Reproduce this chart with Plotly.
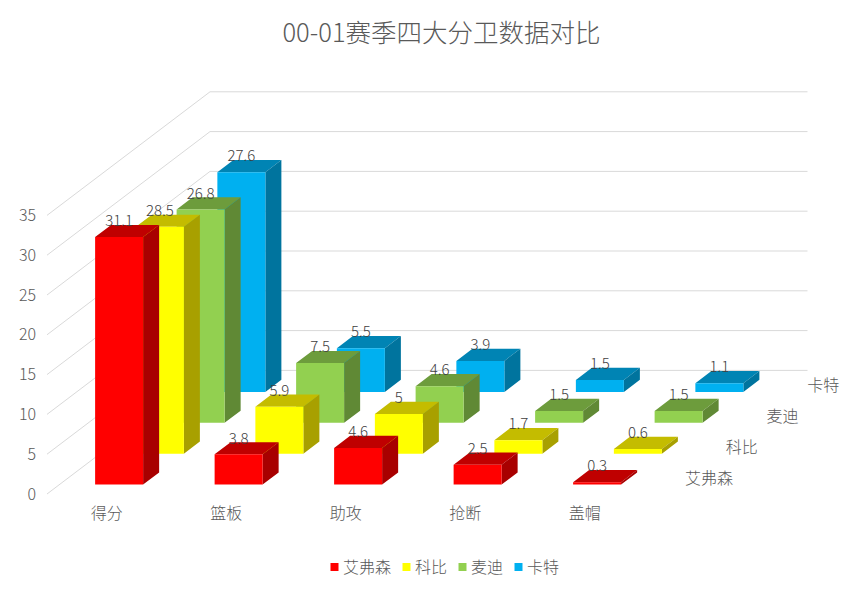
import plotly.graph_objects as go

title = "00-01赛季四大分卫数据对比"
categories = ["得分", "篮板", "助攻", "抢断", "盖帽"]
players = ["艾弗森", "科比", "麦迪", "卡特"]
iverson = [31.1, 3.8, 4.6, 2.5, 0.3]
kobe = [28.5, 5.9, 5, 1.7, 0.6]
mcgrady = [26.8, 7.5, 4.6, 1.5, 1.5]
carter = [27.6, 5.5, 3.9, 1.5, 1.1]
series = [iverson, kobe, mcgrady, carter]
ticks = [0, 5, 10, 15, 20, 25, 30, 35]

# front, top, side colour of each series
front = ["#FF0000", "#FFFF00", "#92D050", "#00B0F0"]
top = ["#BF0000", "#C4BC00", "#6D9C3C", "#0084B4"]
side = ["#A80000", "#A8A000", "#608935", "#00749E"]
text_color = "#595959"
label_color = "#404040"
font_cn = "Noto Sans CJK SC"

# the page keeps its 8px body margin, so the axes start at 8 to stay in page pixels
PAGE_MARGIN = 8
WIDTH, HEIGHT = 856, 606


# Excel style oblique projection, result is in page pixels
def proj(cat, depth, val):
    return 47 + 119.5 * cat + 40.75 * depth, 494 - 30.9 * depth - 7.96 * val


def poly(xs, ys, pts):
    for p in pts:
        x, y = proj(*p)
        xs.append(x)
        ys.append(y)
    xs.append(None)
    ys.append(None)


def face_trace(xs, ys, color, name):
    return go.Scatter(x=xs, y=ys, mode="lines", fill="toself", fillcolor=color,
                      line=dict(width=0), name=name, hoverinfo="name")


def text_trace(xs, ys, labels, pos, size, color=text_color):
    return go.Scatter(x=xs, y=ys, mode="text", text=labels, textposition=pos,
                      textfont=dict(family=font_cn, size=size, color=color, weight=300),
                      hoverinfo="skip")


fig = go.Figure()

# gridlines: diagonal on the side wall, then flat along the back wall
for v in ticks:
    xs, ys = zip(proj(0, 0, v), proj(0, 4, v), proj(5, 4, v))
    fig.add_trace(go.Scatter(x=xs, y=ys, mode="lines", hoverinfo="skip",
                             line=dict(color="#D9D9D9", width=1)))

# bars, back series first so the front ones cover them
for s in range(3, -1, -1):
    fx, fy, tx, ty, sx, sy = [], [], [], [], [], []
    for c, v in enumerate(series[s]):
        c0, c1 = c + 0.2992, c + 0.7008
        d0, d1 = s + 0.3035, s + 0.6965
        poly(fx, fy, [(c0, d0, 0), (c1, d0, 0), (c1, d0, v), (c0, d0, v)])
        poly(tx, ty, [(c0, d0, v), (c1, d0, v), (c1, d1, v), (c0, d1, v)])
        poly(sx, sy, [(c1, d0, 0), (c1, d1, 0), (c1, d1, v), (c1, d0, v)])
    fig.add_trace(face_trace(tx, ty, top[s], players[s]))
    fig.add_trace(face_trace(sx, sy, side[s], players[s]))
    fig.add_trace(face_trace(fx, fy, front[s], players[s]))

# data labels
for s in range(3, -1, -1):
    pts = [proj(c + 0.5, s + 0.3035, v) for c, v in enumerate(series[s])]
    fig.add_trace(text_trace([p[0] for p in pts], [p[1] - 14.5 for p in pts],
                             [str(v) for v in series[s]], "middle center", 15, label_color))

# value axis labels
pts = [proj(0, 0, v) for v in ticks]
fig.add_trace(text_trace([36] * len(ticks), [p[1] + 1.5 for p in pts],
                         [str(v) for v in ticks], "middle left", 16))

# category labels
pts = [proj(c + 0.5, 0, 0) for c in range(len(categories))]
fig.add_trace(text_trace([p[0] for p in pts], [p[1] + 20.5 for p in pts],
                         categories, "middle center", 16))

# series labels on the depth axis
pts = [proj(5, s + 0.5, 0) for s in range(len(players))]
fig.add_trace(text_trace([p[0] + 20 for p in pts], [p[1] + 1 for p in pts],
                         players, "middle right", 16))

# legend row
legend_x = [331, 403, 459, 515]
for i in range(len(players)):
    fig.add_trace(go.Scatter(x=[legend_x[i] + 3.5], y=[567], mode="markers",
                             marker=dict(symbol="square", size=8, color=front[i]),
                             hoverinfo="skip"))
    fig.add_trace(text_trace([legend_x[i] + 12], [569], [players[i]], "middle right", 16))

fig.update_layout(
    width=WIDTH - PAGE_MARGIN,
    height=HEIGHT - PAGE_MARGIN,
    margin=dict(l=0, r=0, t=0, b=0),
    paper_bgcolor="white",
    plot_bgcolor="white",
    showlegend=False,
    title=dict(text=title, x=(441.5 - PAGE_MARGIN) / (WIDTH - PAGE_MARGIN), xanchor="center",
               xref="paper", y=1 - (33 - PAGE_MARGIN) / (HEIGHT - PAGE_MARGIN), yanchor="middle",
               font=dict(family=font_cn, size=25.5, color=text_color, weight=300)),
    xaxis=dict(range=[PAGE_MARGIN, WIDTH], visible=False, fixedrange=True),
    yaxis=dict(range=[HEIGHT, PAGE_MARGIN], visible=False, fixedrange=True),
)
fig.write_html("out.html")
